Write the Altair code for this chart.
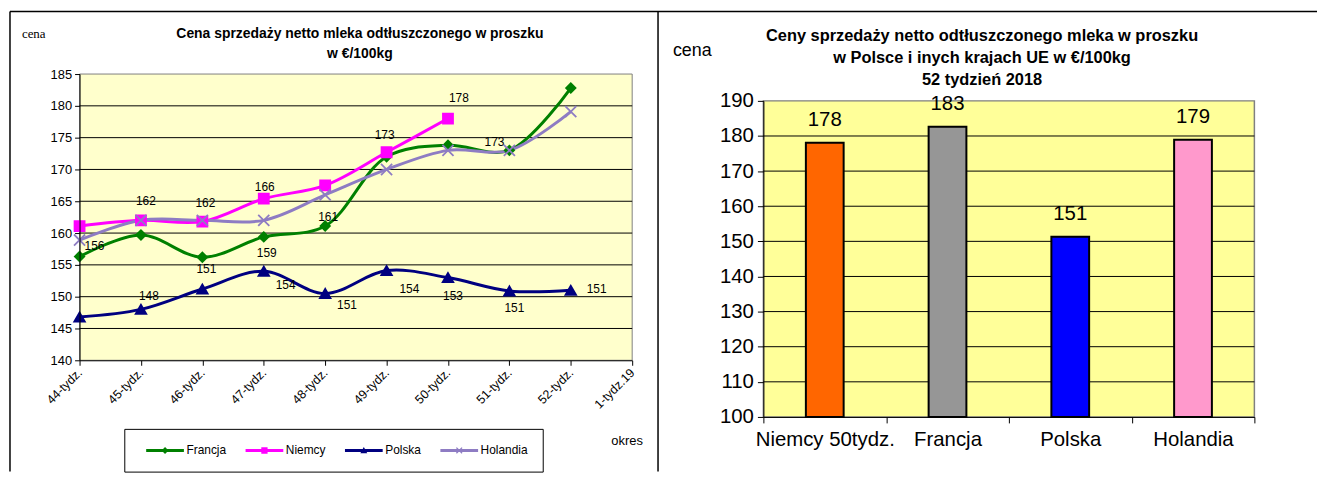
import altair as alt
import pandas as pd

# ---------------- data ----------------
WEEKS = ["44-tydz.", "45-tydz.", "46-tydz.", "47-tydz.", "48-tydz.",
         "49-tydz.", "50-tydz.", "51-tydz.", "52-tydz.", "1-tydz.19"]
SERIES = ["Francja", "Niemcy", "Polska", "Holandia"]
FRANCJA = [156.3, 159.7, 156.2, 159.4, 161.1, 172.0, 173.8, 173.0, 182.8]
NIEMCY = [161.1, 162.0, 161.8, 165.4, 167.5, 172.7, 178.0]
POLSKA = [146.8, 148.0, 151.2, 154.0, 150.5, 154.1, 153.0, 150.9, 151.0]
HOLANDIA = [158.9, 162.0, 162.0, 162.0, 166.0, 170.0, 173.0, 173.0, 179.1]
Y_TICKS_LEFT = [140, 145, 150, 155, 160, 165, 170, 175, 180, 185]
GRID_LEFT = [145, 150, 155, 160, 165, 170, 175, 180]

# data labels shown on the line chart: (week, series, text)
LABELS = [
    ("44-tydz.", "Francja", "156"), ("45-tydz.", "Niemcy", "162"),
    ("46-tydz.", "Niemcy", "162"), ("47-tydz.", "Niemcy", "166"),
    ("48-tydz.", "Francja", "161"), ("49-tydz.", "Niemcy", "173"),
    ("50-tydz.", "Niemcy", "178"), ("51-tydz.", "Holandia", "173"),
    ("47-tydz.", "Francja", "159"), ("45-tydz.", "Polska", "148"),
    ("46-tydz.", "Polska", "151"), ("47-tydz.", "Polska", "154"),
    ("48-tydz.", "Polska", "151"), ("49-tydz.", "Polska", "154"),
    ("50-tydz.", "Polska", "153"), ("51-tydz.", "Polska", "151"),
    ("52-tydz.", "Polska", "151"),
]

BAR_CATS = ["Niemcy 50tydz.", "Francja", "Polska", "Holandia"]
BAR_VALS = [178.1, 182.6, 151.3, 178.9]
Y_TICKS_RIGHT = [100, 110, 120, 130, 140, 150, 160, 170, 180, 190]
GRID_RIGHT = [110, 120, 130, 140, 150, 160, 170, 180]

LEFT_TITLE = ["Cena sprzedaży netto mleka odtłuszczonego w proszku", "w €/100kg"]
RIGHT_TITLE = ["Ceny sprzedaży netto odtłuszczonego mleka w proszku",
               "w Polsce i inych  krajach UE w €/100kg", "52 tydzień 2018"]

# ---------------- styles ----------------
FONT = "Liberation Sans"
COLORS = ["#008000", "#FF00FF", "#000080", "#8E7CC3"]
BAR_COLORS = ["#FF6600", "#969696", "#0000FF", "#FF99CC"]
LABEL_OFFSETS = {
    ("44-tydz.", "Francja"): (15, -11), ("45-tydz.", "Niemcy"): (5, -19),
    ("46-tydz.", "Niemcy"): (3, -19), ("47-tydz.", "Niemcy"): (1, -12),
    ("48-tydz.", "Francja"): (3, -9), ("49-tydz.", "Niemcy"): (-2, -17),
    ("50-tydz.", "Niemcy"): (11, -21), ("51-tydz.", "Holandia"): (-15, -8),
    ("47-tydz.", "Francja"): (3, 16), ("45-tydz.", "Polska"): (8, -13),
    ("46-tydz.", "Polska"): (4, -20), ("47-tydz.", "Polska"): (22, 14),
    ("48-tydz.", "Polska"): (22, 12), ("49-tydz.", "Polska"): (23, 19),
    ("50-tydz.", "Polska"): (5, 19), ("51-tydz.", "Polska"): (5, 17),
    ("52-tydz.", "Polska"): (26, -1),
}
LW, LH = 556, 288          # left plot area
RX0, RX1 = 688, 1182       # right plot x range
RY0, RY1 = 345, 27         # right plot y range (bottom, top)
TOTAL_W, TOTAL_H = 1182, 345
BIG = 20.5                 # right chart font size

vals = {"Francja": FRANCJA, "Niemcy": NIEMCY, "Polska": POLSKA, "Holandia": HOLANDIA}
rows = []
for s in SERIES:
    for i, v in enumerate(vals[s]):
        rows.append({"week": WEEKS[i], "idx": i, "series": s, "value": v})
df = pd.DataFrame(rows)

xL = alt.Scale(type="point", domain=WEEKS, range=[0, LW], padding=0)
yL = alt.Scale(domain=[140, 185], range=[LH, 0], nice=False, zero=False)
cScale = alt.Scale(domain=SERIES, range=COLORS)
shapeScale = alt.Scale(domain=SERIES, range=["diamond", "square", "triangle-up",
                                             "M-1,-1L1,1M-1,1L1,-1"])
sizeScale = alt.Scale(domain=SERIES, range=[90, 125, 140, 130])

axXL = alt.Axis(orient="bottom", offset=LH - TOTAL_H, title=None, labelAngle=-45,
                labelAlign="right", labelBaseline="middle", labelFontSize=12.5, labelPadding=5,
                tickSize=5, labelOverlap=False, labelFont=FONT, labelColor="black",
                tickColor="black", domainColor="black", grid=False, zindex=1)
axYL = alt.Axis(orient="left", values=Y_TICKS_LEFT, title=None, labelFontSize=13, labelPadding=3,
                tickSize=5, labelFont=FONT, labelColor="black", tickColor="black",
                domainColor="black", grid=False, zindex=1)

one = alt.Data(values=[{}])

bgL = alt.Chart(one).mark_rect(fill="#FFFFCC", stroke="#808080", strokeWidth=1).encode(
    x=alt.value(0), x2=alt.value(LW),
    y=alt.Y(datum=185, scale=yL, axis=axYL), y2=alt.datum(140))
gridL = alt.Chart(pd.DataFrame({"g": GRID_LEFT})).mark_rule(color="black", strokeWidth=1).encode(
    x=alt.value(0), x2=alt.value(LW), y=alt.Y("g:Q", scale=yL, axis=axYL))
linesL = alt.Chart(df).mark_line(interpolate="catmull-rom", strokeWidth=3).encode(
    x=alt.X("week:N", scale=xL, axis=axXL, sort=WEEKS),
    y=alt.Y("value:Q", scale=yL, axis=axYL),
    stroke=alt.Stroke("series:N", scale=cScale, legend=None),
    order=alt.Order("idx:Q"))
pointsL = alt.Chart(df).mark_point(filled=True, opacity=1, strokeWidth=1.8).encode(
    x=alt.X("week:N", scale=xL, axis=axXL, sort=WEEKS),
    y=alt.Y("value:Q", scale=yL, axis=axYL),
    fill=alt.Fill("series:N", scale=cScale, legend=None),
    stroke=alt.Stroke("series:N", scale=cScale, legend=None),
    shape=alt.Shape("series:N", scale=shapeScale, legend=None),
    size=alt.Size("series:N", scale=sizeScale, legend=None))

label_layers = []
for (w, s, t) in LABELS:
    v = vals[s][WEEKS.index(w)]
    dx, dy = LABEL_OFFSETS[(w, s)]
    label_layers.append(
        alt.Chart(pd.DataFrame({"week": [w], "value": [v], "t": [t]})).mark_text(
            dx=dx, dy=dy, fontSize=12, font=FONT, color="black", baseline="middle").encode(
            x=alt.X("week:N", scale=xL, axis=axXL, sort=WEEKS),
            y=alt.Y("value:Q", scale=yL, axis=axYL),
            text="t:N"))

left = alt.layer(bgL, gridL, linesL, pointsL, *label_layers)

# ---------------- right chart ----------------
dfb = pd.DataFrame({"cat": BAR_CATS, "val": BAR_VALS})
xR = alt.Scale(type="band", domain=BAR_CATS, range=[RX0, RX1], paddingInner=0, paddingOuter=0)
yR = alt.Scale(domain=[100, 190], range=[RY0, RY1], nice=False, zero=False)
axXR = alt.Axis(orient="bottom", title=None, labelAngle=0, labelFontSize=BIG, labelPadding=7,
                tickSize=6, tickBand="extent", labelFont=FONT, labelColor="black",
                tickColor="black", domainColor="black", grid=False, zindex=1)
axYR = alt.Axis(orient="left", offset=-RX0, values=Y_TICKS_RIGHT, title=None, labelFontSize=BIG,
                labelPadding=4, tickSize=6, labelFont=FONT, labelColor="black",
                tickColor="black", domainColor="black", grid=False, zindex=1)

bgR = alt.Chart(one).mark_rect(fill="#FFFF99", stroke="#808080", strokeWidth=1.5).encode(
    x=alt.value(RX0), x2=alt.value(RX1),
    y=alt.Y(datum=190, scale=yR, axis=axYR), y2=alt.datum(100))
gridR = alt.Chart(pd.DataFrame({"g": GRID_RIGHT})).mark_rule(color="black", strokeWidth=1).encode(
    x=alt.value(RX0), x2=alt.value(RX1), y=alt.Y("g:Q", scale=yR, axis=axYR))
bars = alt.Chart(dfb).mark_bar(size=38, stroke="black", strokeWidth=2).encode(
    x=alt.X("cat:N", scale=xR, axis=axXR, sort=BAR_CATS),
    y=alt.Y("val:Q", scale=yR, axis=axYR), y2=alt.datum(100),
    fill=alt.Fill("cat:N", scale=alt.Scale(domain=BAR_CATS, range=BAR_COLORS), legend=None))
barText = alt.Chart(dfb).mark_text(dy=-23, fontSize=BIG, font=FONT, color="black").encode(
    x=alt.X("cat:N", scale=xR, axis=axXR, sort=BAR_CATS),
    y=alt.Y("val:Q", scale=yR, axis=axYR),
    text=alt.Text("val:Q", format=".0f"))

right = alt.layer(bgR, gridR, bars, barText)

# ---------------- legend (line + marker symbols) ----------------
LINE = "M-3,-0.24H3V0.24H-3Z"
LEG_PATHS = [
    LINE + "M0,-0.55L0.55,0L0,0.55L-0.55,0Z",
    LINE + "M-0.5,-0.5H0.5V0.5H-0.5Z",
    LINE + "M0,-0.55L0.55,0.45H-0.55Z",
    LINE + "M-0.38,-0.52L0.52,0.38L0.38,0.52L-0.52,-0.38Z"
         + "M0.52,-0.38L-0.38,0.52L-0.52,0.38L0.38,-0.52Z",
]
leg = alt.Legend(title=None, orient="none", legendX=45, legendY=357, direction="horizontal",
                 symbolSize=160, symbolOffset=19.5, labelOffset=15, columnPadding=12,
                 padding=15, strokeColor="black", fillColor="white", labelFont=FONT,
                 labelFontSize=12, labelColor="black", symbolStrokeWidth=0)
legendLayer = alt.Chart(pd.DataFrame({"series": SERIES})).mark_point(
    filled=True, opacity=1, size=160, clip=True).encode(
    x=alt.value(-500), y=alt.value(-500),
    color=alt.Color("series:N", scale=cScale, legend=leg),
    shape=alt.Shape("series:N", scale=alt.Scale(domain=SERIES, range=LEG_PATHS), legend=leg))

# ---------------- decorations: frames, titles ----------------
deco = []
deco.append(alt.Chart(one).mark_rule(color="black", strokeWidth=1.5).encode(
    x=alt.value(-70), x2=alt.value(1245), y=alt.value(-63)))
for xv in (-70, 582):
    deco.append(alt.Chart(one).mark_rule(color="black", strokeWidth=1.5).encode(
        x=alt.value(xv), y=alt.value(-63), y2=alt.value(400)))
for i, line in enumerate(LEFT_TITLE):
    deco.append(alt.Chart(one).mark_text(text=line, font=FONT, fontSize=14, fontWeight="bold",
                                         align="center", baseline="middle", color="black").encode(
        x=alt.value(282), y=alt.value(-40 + 20 * i)))
for i, line in enumerate(RIGHT_TITLE):
    deco.append(alt.Chart(one).mark_text(text=line, font=FONT, fontSize=16.5, fontWeight="bold",
                                         align="center", baseline="middle", color="black").encode(
        x=alt.value(908), y=alt.value(-38 + 22 * i)))
deco.append(alt.Chart(one).mark_text(text="cena", font="Liberation Serif", fontSize=13,
                                     align="left", baseline="middle", color="black").encode(
    x=alt.value(-58), y=alt.value(-40)))
deco.append(alt.Chart(one).mark_text(text="cena", font=FONT, fontSize=18,
                                     align="left", baseline="middle", color="black").encode(
    x=alt.value(597), y=alt.value(-23)))
deco.append(alt.Chart(one).mark_text(text="okres", font=FONT, fontSize=13,
                                     align="left", baseline="middle", color="black").encode(
    x=alt.value(535), y=alt.value(369)))

chart = alt.layer(left, right, legendLayer, *deco).resolve_scale(
    x="independent", y="independent", color="independent", shape="independent",
    fill="independent", stroke="independent", size="independent"
).properties(
    width=TOTAL_W, height=TOTAL_H,
    autosize=alt.AutoSizeParams(type="none"),
    padding={"left": 72, "top": 65, "right": 63, "bottom": 61},
    background="white",
).configure_view(stroke=None)

chart.save("out.html", embed_options={"renderer": "svg", "actions": False})
